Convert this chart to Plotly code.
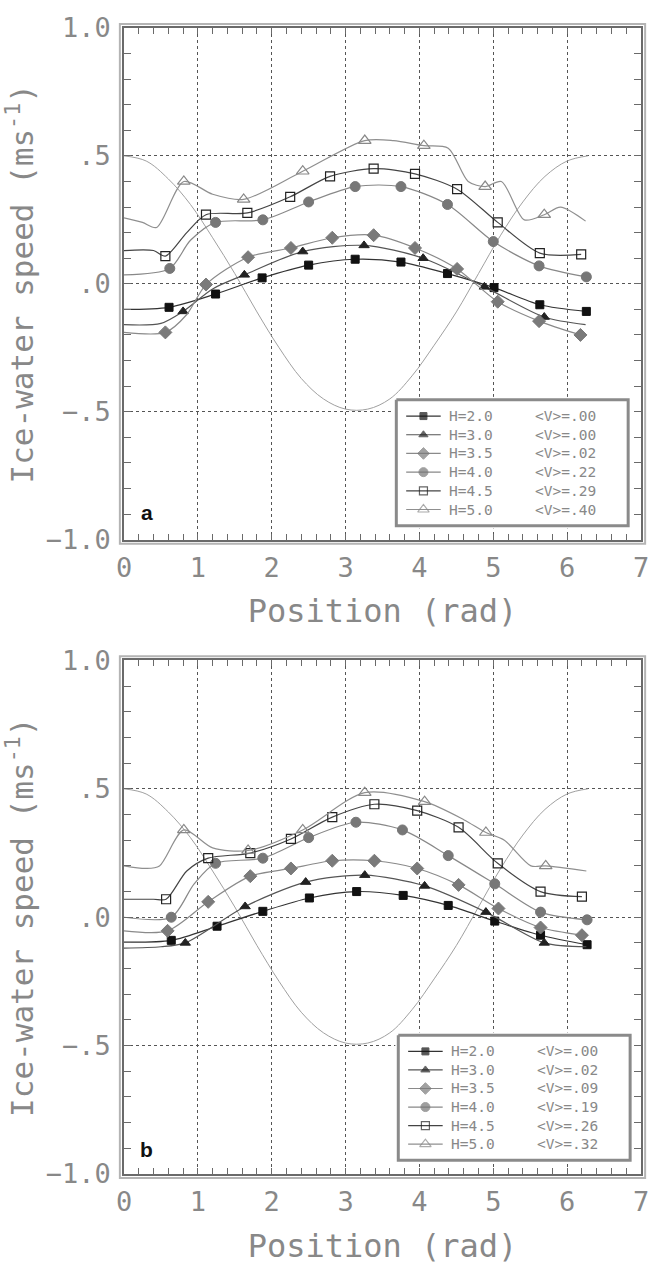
import plotly.graph_objects as go

# ---------------- data ----------------
COS_X = [0, 0.3, 0.6, 0.9, 1.2, 1.5, 1.8, 2.1, 2.4, 2.7, 3.0, 3.3, 3.6, 3.9, 4.2, 4.5, 4.8, 5.1, 5.4, 5.7, 6.0, 6.28]
COS_Y = [0.50, 0.48, 0.41, 0.31, 0.18, 0.04, -0.11, -0.25, -0.37, -0.45, -0.49, -0.49, -0.45, -0.36, -0.24, -0.11, 0.04, 0.19, 0.32, 0.42, 0.48, 0.50]

# panel a
A_H20_X = [0, 0.61, 1.24, 1.87, 2.5, 3.13, 3.75, 4.38, 5.01, 5.63, 6.26]
A_H20_Y = [-0.10, -0.092, -0.04, 0.023, 0.073, 0.096, 0.085, 0.04, -0.015, -0.082, -0.108]
A_H20_M = [1, 2, 3, 4, 5, 6, 7, 8, 9, 10]

A_H30_X = [0, 0.5, 0.80, 1.2, 1.63, 2.42, 3.25, 4.05, 4.88, 5.69, 6.25]
A_H30_Y = [-0.16, -0.155, -0.108, -0.02, 0.035, 0.126, 0.15, 0.10, -0.012, -0.13, -0.16]
A_H30_M = [2, 4, 5, 6, 7, 8, 9]

A_H35_X = [0, 0.56, 0.85, 1.11, 1.68, 2.26, 2.82, 3.38, 3.94, 4.51, 5.06, 5.62, 6.18]
A_H35_Y = [-0.19, -0.19, -0.12, -0.003, 0.104, 0.14, 0.18, 0.19, 0.14, 0.058, -0.07, -0.146, -0.20]
A_H35_M = [1, 3, 4, 5, 6, 7, 8, 9, 10, 11, 12]

A_H40_X = [0, 0.62, 0.9, 1.24, 1.88, 2.5, 3.13, 3.75, 4.38, 5.0, 5.62, 6.26]
A_H40_Y = [0.035, 0.06, 0.17, 0.24, 0.25, 0.32, 0.38, 0.38, 0.31, 0.165, 0.07, 0.027]
A_H40_M = [1, 3, 4, 5, 6, 7, 8, 9, 10, 11]

A_H45_X = [0, 0.4, 0.56, 0.85, 1.11, 1.67, 2.25, 2.79, 3.38, 3.94, 4.51, 5.06, 5.63, 6.19]
A_H45_Y = [0.13, 0.13, 0.108, 0.2, 0.27, 0.277, 0.34, 0.42, 0.45, 0.43, 0.37, 0.24, 0.12, 0.115]
A_H45_M = [2, 4, 5, 6, 7, 8, 9, 10, 11, 12, 13]

A_H50_X = [0, 0.25, 0.44, 0.81, 1.2, 1.62, 2.42, 3.26, 3.65, 4.06, 4.39, 4.66, 4.89, 5.11, 5.42, 5.69, 5.91, 6.25]
A_H50_Y = [0.258, 0.24, 0.22, 0.40, 0.35, 0.33, 0.44, 0.56, 0.56, 0.54, 0.53, 0.40, 0.38, 0.40, 0.25, 0.27, 0.30, 0.245]
A_H50_M = [3, 5, 6, 7, 9, 12, 15]

# panel b
B_H20_X = [0, 0.64, 1.26, 1.88, 2.51, 3.15, 3.78, 4.39, 5.02, 5.64, 6.27]
B_H20_Y = [-0.097, -0.09, -0.035, 0.023, 0.075, 0.10, 0.085, 0.046, -0.015, -0.07, -0.107]
B_H20_M = [1, 2, 3, 4, 5, 6, 7, 8, 9, 10]

B_H30_X = [0, 0.5, 0.83, 1.64, 2.46, 3.26, 4.07, 4.9, 5.69, 6.26]
B_H30_Y = [-0.12, -0.115, -0.10, 0.042, 0.137, 0.164, 0.122, 0.02, -0.10, -0.115]
B_H30_M = [2, 3, 4, 5, 6, 7, 8]

B_H35_X = [0, 0.59, 1.14, 1.71, 2.26, 2.82, 3.39, 3.97, 4.53, 5.07, 5.64, 6.2]
B_H35_Y = [-0.053, -0.053, 0.06, 0.16, 0.19, 0.22, 0.22, 0.19, 0.126, 0.034, -0.04, -0.07]
B_H35_M = [1, 2, 3, 4, 5, 6, 7, 8, 9, 10, 11]

B_H40_X = [0, 0.64, 0.95, 1.24, 1.88, 2.5, 3.14, 3.77, 4.39, 5.02, 5.64, 6.27]
B_H40_Y = [0.0, 0.0, 0.13, 0.21, 0.23, 0.31, 0.37, 0.34, 0.24, 0.13, 0.02, -0.01]
B_H40_M = [1, 3, 4, 5, 6, 7, 8, 9, 10, 11]

B_H45_X = [0, 0.4, 0.57, 0.85, 1.14, 1.71, 2.26, 2.82, 3.39, 3.97, 4.53, 5.06, 5.64, 6.2]
B_H45_Y = [0.07, 0.07, 0.07, 0.18, 0.23, 0.25, 0.305, 0.39, 0.44, 0.415, 0.35, 0.21, 0.10, 0.08]
B_H45_M = [2, 4, 5, 6, 7, 8, 9, 10, 11, 12, 13]

B_H50_X = [0, 0.3, 0.48, 0.81, 1.2, 1.68, 2.42, 3.26, 4.07, 4.6, 4.9, 5.15, 5.51, 5.71, 6.26]
B_H50_Y = [0.20, 0.19, 0.20, 0.34, 0.27, 0.26, 0.34, 0.485, 0.45, 0.38, 0.33, 0.30, 0.20, 0.20, 0.18]
B_H50_M = [3, 5, 6, 7, 8, 10, 13]

H_LABELS = ["2.0", "3.0", "3.5", "4.0", "4.5", "5.0"]
A_MEANV = [".00", ".00", ".02", ".22", ".29", ".40"]
B_MEANV = [".00", ".02", ".09", ".19", ".26", ".32"]

Y_TICKVALS = [-1.0, -0.5, 0.0, 0.5, 1.0]
Y_TICKTEXT = ["\u22121.0", "\u2212.5", ".0", ".5", "1.0"]
X_TICKVALS = [0, 1, 2, 3, 4, 5, 6, 7]

# ---------------- styling ----------------
TEXT = "#888888"
MONO = "DejaVu Sans Mono"
AXC = "#6a6a6a"
STYLES = [
    dict(symbol="square", size=8, color="#111111", line=dict(color="#111111", width=1), lc="#333333"),
    dict(symbol="triangle-up", size=9, color="#222222", line=dict(color="#222222", width=1), lc="#555555"),
    dict(symbol="diamond", size=10, color="#7a7a7a", line=dict(color="#7a7a7a", width=1), lc="#8a8a8a"),
    dict(symbol="circle", size=10, color="#777777", line=dict(color="#777777", width=1), lc="#888888"),
    dict(symbol="square-open", size=9, color="#222222", line=dict(color="#222222", width=1.2), lc="#444444"),
    dict(symbol="triangle-up-open", size=11, color="#888888", line=dict(color="#888888", width=1.2), lc="#8f8f8f"),
]

fig = go.Figure()

panels = [
    ("x", "y", "x3", "y3", A_MEANV,
     [(A_H20_X, A_H20_Y, A_H20_M), (A_H30_X, A_H30_Y, A_H30_M), (A_H35_X, A_H35_Y, A_H35_M),
      (A_H40_X, A_H40_Y, A_H40_M), (A_H45_X, A_H45_Y, A_H45_M), (A_H50_X, A_H50_Y, A_H50_M)]),
    ("x2", "y2", "x4", "y4", B_MEANV,
     [(B_H20_X, B_H20_Y, B_H20_M), (B_H30_X, B_H30_Y, B_H30_M), (B_H35_X, B_H35_Y, B_H35_M),
      (B_H40_X, B_H40_Y, B_H40_M), (B_H45_X, B_H45_Y, B_H45_M), (B_H50_X, B_H50_Y, B_H50_M)]),
]

# legend box geometry in legend-axis units (pixels inside the box)
BOX_W, BOX_H = 235, 128
ROW0, ROW_STEP = 16.5, 19.0
SYM_X0, SYM_X1 = 10, 45
TXT_X1, TXT_X2 = 52, 140
LEG_FONT = 14.5

for xa, ya, lxa, lya, meanv, series in panels:
    # topography (cosine) line
    fig.add_trace(go.Scatter(x=COS_X, y=COS_Y, xaxis=xa, yaxis=ya, mode="lines",
                             line=dict(color="#a0a0a0", width=1, shape="spline"),
                             showlegend=False, hoverinfo="skip"))
    for i, (xs, ys, mk) in enumerate(series):
        st = STYLES[i]
        fig.add_trace(go.Scatter(x=xs, y=ys, xaxis=xa, yaxis=ya, mode="lines",
                                 line=dict(color=st["lc"], width=1.2, shape="spline", smoothing=0.8),
                                 showlegend=False, hoverinfo="skip"))
        fig.add_trace(go.Scatter(x=[xs[j] for j in mk], y=[ys[j] for j in mk], xaxis=xa, yaxis=ya, mode="markers",
                                 marker=dict(symbol=st["symbol"], size=st["size"], color=st["color"], line=st["line"]),
                                 showlegend=False, hoverinfo="skip"))
    # legend box (white, covering grid) on its own overlay axes
    fig.add_trace(go.Scatter(x=[0, BOX_W, BOX_W, 0, 0], y=[0, 0, BOX_H, BOX_H, 0], xaxis=lxa, yaxis=lya,
                             mode="lines", fill="toself", fillcolor="white",
                             line=dict(color="#8a8a8a", width=3), showlegend=False, hoverinfo="skip"))
    for i in range(len(series)):
        st = STYLES[i]
        yy = ROW0 + ROW_STEP * i
        fig.add_trace(go.Scatter(x=[SYM_X0, (SYM_X0 + SYM_X1) / 2, SYM_X1], y=[yy, yy, yy], xaxis=lxa, yaxis=lya,
                                 mode="lines+markers", line=dict(color=st["lc"], width=1.2),
                                 marker=dict(symbol=st["symbol"], size=[0, st["size"] - 1, 0], color=st["color"],
                                             line=st["line"]),
                                 showlegend=False, hoverinfo="skip"))
        fig.add_annotation(xref=lxa, yref=lya, x=TXT_X1, y=yy, xanchor="left", yanchor="middle",
                           text="H=" + H_LABELS[i], showarrow=False, borderpad=0,
                           font=dict(family=MONO, size=LEG_FONT, color=TEXT))
        fig.add_annotation(xref=lxa, yref=lya, x=TXT_X2, y=yy, xanchor="left", yanchor="middle",
                           text="&lt;V&gt;=" + meanv[i], showarrow=False, borderpad=0,
                           font=dict(family=MONO, size=LEG_FONT, color=TEXT))

axis_common = dict(showline=True, linecolor=AXC, linewidth=1.5, mirror="ticks",
                   ticks="inside", tickcolor=AXC, tickwidth=1,
                   showgrid=True, gridcolor="#555555", griddash="dot", gridwidth=1,
                   zeroline=False, tickfont=dict(family=MONO, size=27, color=TEXT))

xdef = dict(range=[0, 7], tickvals=X_TICKVALS, ticklen=6,
            minor=dict(dtick=0.2, tick0=0, ticks="inside", ticklen=6, tickcolor=AXC, showgrid=False),
            title=dict(text="Position (rad)", font=dict(family=MONO, size=32, color=TEXT), standoff=18),
            ticklabelstandoff=3, **axis_common)
ydef = dict(range=[-1, 1], tickvals=Y_TICKVALS, ticktext=Y_TICKTEXT, ticklen=7,
            minor=dict(dtick=0.1, tick0=0, ticks="inside", ticklen=7, tickcolor=AXC, showgrid=False),
            title=dict(text="Ice-water speed (ms<sup>-1</sup>)", font=dict(family=MONO, size=31, color=TEXT), standoff=6),
            ticklabelstandoff=6, **axis_common)

legax = dict(visible=False, showgrid=False, zeroline=False, fixedrange=True)

fig.update_layout(
    xaxis=dict(domain=[0, 1], anchor="y", **xdef),
    yaxis=dict(domain=[0.5536, 1.0], anchor="x", **ydef),
    xaxis2=dict(domain=[0, 1], anchor="y2", **xdef),
    yaxis2=dict(domain=[0.0, 0.4481], anchor="x2", **ydef),
    xaxis3=dict(domain=[0.5210, 0.9809], anchor="y3", range=[-3, BOX_W + 3], **legax),
    yaxis3=dict(domain=[0.5631, 0.6781], anchor="x3", range=[BOX_H + 3, -3], **legax),
    xaxis4=dict(domain=[0.5248, 0.9847], anchor="y4", range=[-3, BOX_W + 3], **legax),
    yaxis4=dict(domain=[0.00944, 0.1236], anchor="x4", range=[BOX_H + 3, -3], **legax),
)

# outer light frames
for xr, yr in [("x domain", "y domain"), ("x2 domain", "y2 domain")]:
    fig.add_shape(type="rect", xref=xr, yref=yr, x0=-0.008, x1=1.008, y0=-0.008, y1=1.008,
                  line=dict(color="#b4b4b4", width=2), layer="above")

# panel letters
fig.add_annotation(xref="x domain", yref="y domain", x=0.044, y=0.052, xanchor="center", yanchor="middle",
                   text="<b>a</b>", showarrow=False, font=dict(family="Liberation Sans", size=21, color="#111111"))
fig.add_annotation(xref="x2 domain", yref="y2 domain", x=0.044, y=0.048, xanchor="center", yanchor="middle",
                   text="<b>b</b>", showarrow=False, font=dict(family="Liberation Sans", size=21, color="#111111"))

fig.update_layout(
    width=661, height=1270,
    margin=dict(l=124, r=13, t=22, b=83),
    paper_bgcolor="white", plot_bgcolor="white",
    showlegend=False,
)

fig.write_html("out.html")
